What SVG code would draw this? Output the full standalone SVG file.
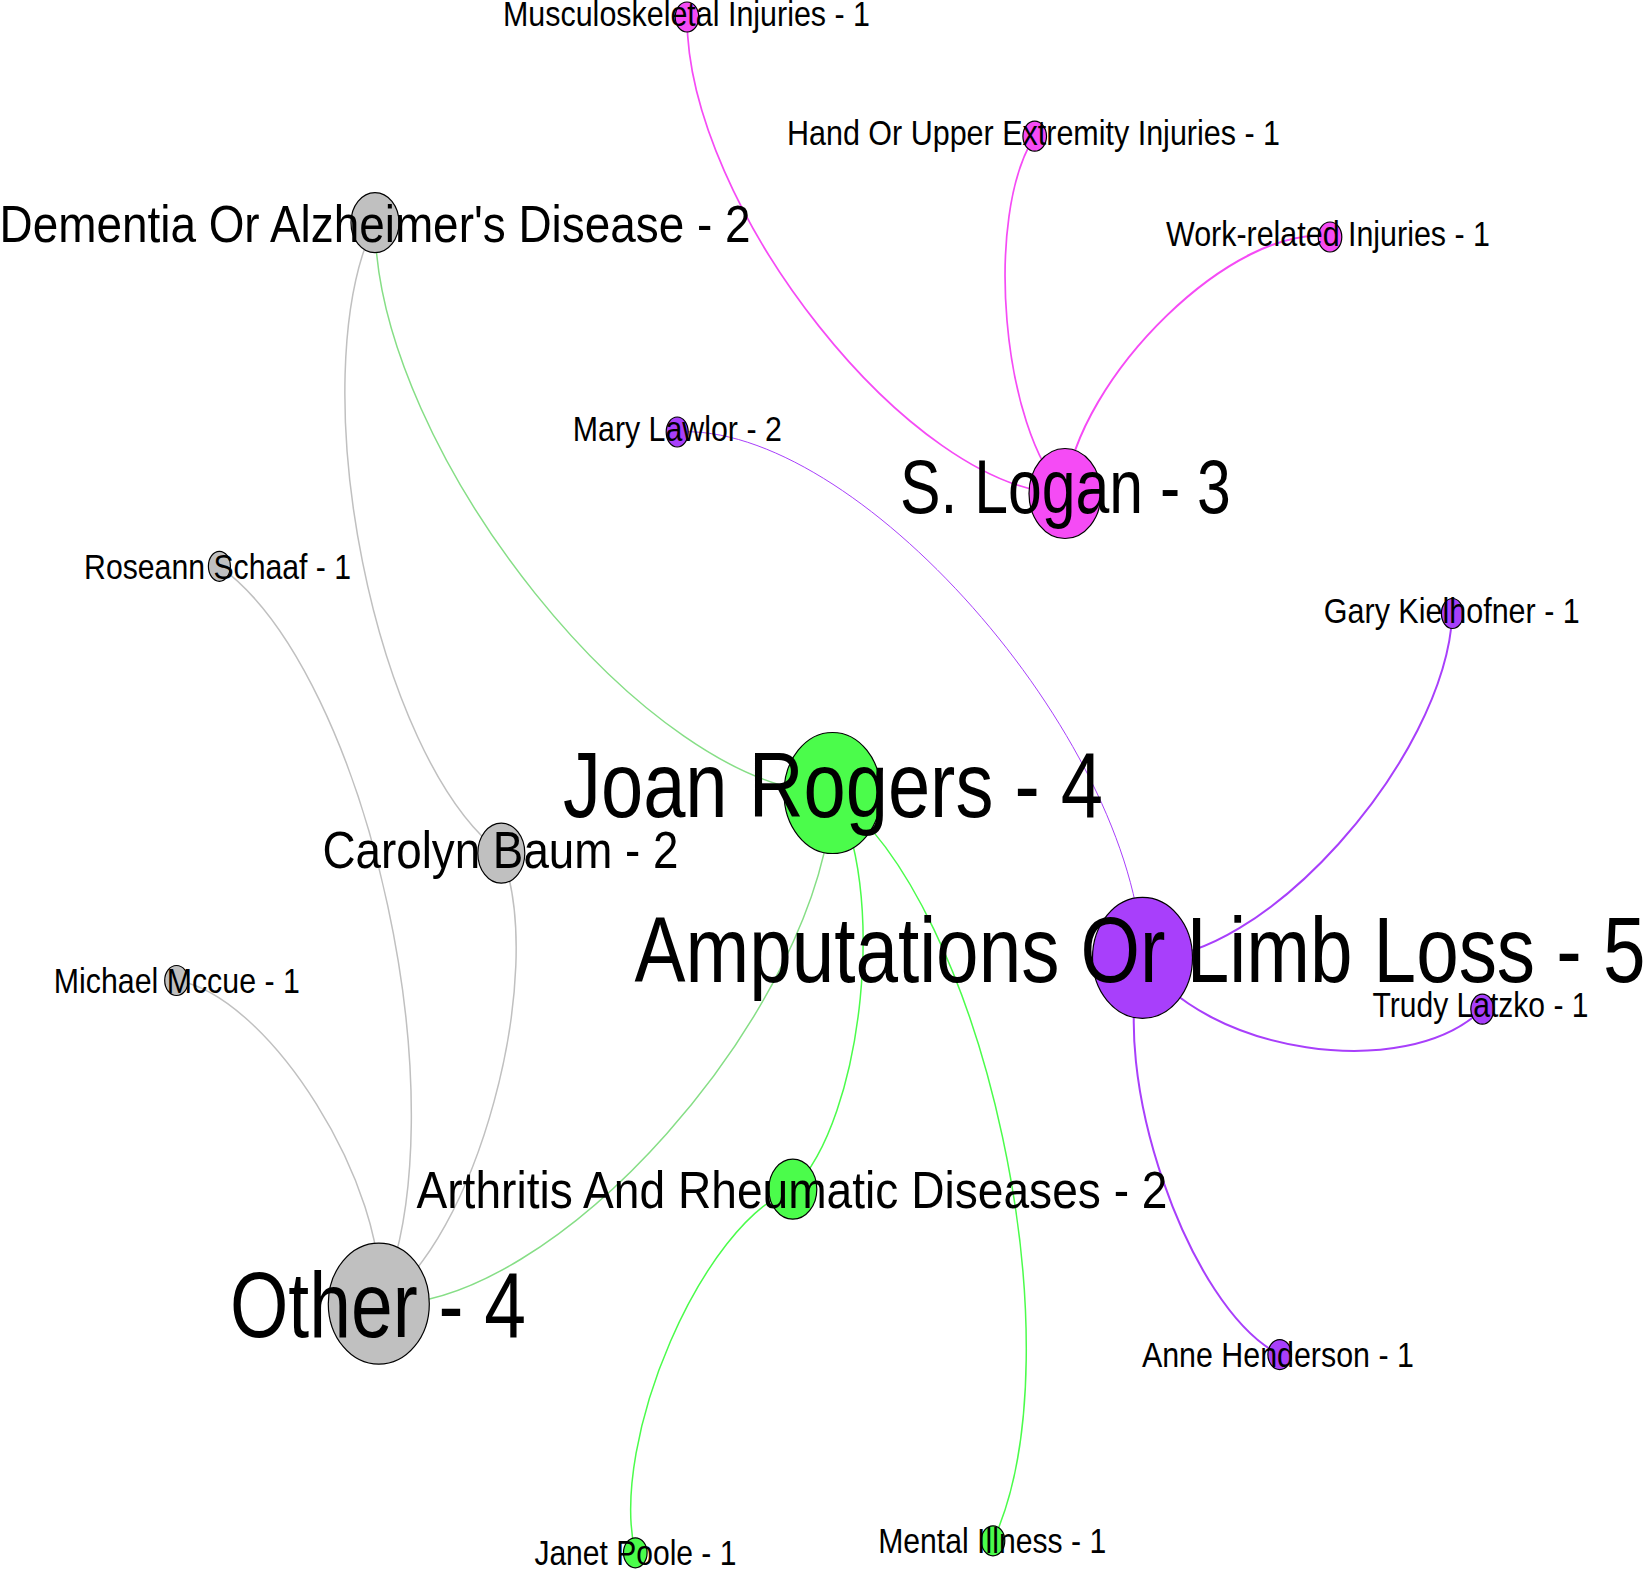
<svg xmlns="http://www.w3.org/2000/svg" width="1647" height="1569" viewBox="0 0 1647 1569">
<style>
.e{fill:none;stroke-width:1.5;vector-effect:non-scaling-stroke}
.mg{stroke:#f54bf5}.pu{stroke:#a83ffb}.gr{stroke:#4bfc4b}.gy{stroke:#c0c0c0}.mx{stroke:#86de86}
.n{stroke:#000;stroke-width:1.2}
.fm{fill:#f54bf5}.fp{fill:#a83ffb}.fg{fill:#4bfc4b}.fy{fill:#c0c0c0}
text{font-family:"Liberation Sans",Arial,sans-serif;fill:#000;text-anchor:middle}
.s{font-size:35px}.m{font-size:52px}.l{font-size:75.5px}.x{font-size:92px}
</style>
<rect width="1647" height="1569" fill="#fff"/>
<g id="connectors" transform="scale(0.8,1)">
<path class="e mg" style="stroke-width:1.7" d="M1331.3,493.5 C1141.5,492.7 858,206.8 858.8,17"/>
<path class="e mg" style="stroke-width:1.7" d="M1331.3,493.5 C1252.2,429.6 1229.5,215.2 1293.4,136.2"/>
<path class="e mg" style="stroke-width:2" d="M1331.3,493.5 C1346.2,376 1545,222.1 1662.5,237"/>
<path class="e pu" style="stroke-width:1" d="M846.5,432 C1068,420.8 1416.9,736.3 1428.1,957.8"/>
<path class="e pu" style="stroke-width:2" d="M1815.5,613.5 C1806.9,759.8 1574.4,966.4 1428.1,957.8"/>
<path class="e pu" style="stroke-width:2" d="M1852.9,1009.2 C1757.7,1083.9 1502.8,1053 1428.1,957.8"/>
<path class="e pu" style="stroke-width:2" d="M1599.6,1354.6 C1485.9,1309.5 1383,1071.5 1428.1,957.8"/>
<path class="e gy" d="M626.6,853.2 C468.9,758.7 374.2,380.4 468.8,222.7"/>
<path class="e mx" d="M1040.6,793 C812.2,793.3 469.1,451.1 468.8,222.7"/>
<path class="e gy" d="M274.3,566.3 C461.6,673.9 581.1,1116.4 473.5,1303.7"/>
<path class="e gy" d="M220.6,980.5 C335.8,994.6 487.6,1188.5 473.5,1303.7"/>
<path class="e gy" d="M626.6,853.2 C686.1,973.9 594.2,1244.2 473.5,1303.7"/>
<path class="e mx" d="M1040.6,793 C1029.3,1008.6 689.1,1315 473.5,1303.7"/>
<path class="e gr" d="M1040.6,793 C1109.9,882.2 1080.2,1119.9 991,1189.2"/>
<path class="e gr" d="M1040.6,793 C1230.3,902.4 1350.7,1351.1 1241.3,1540.8"/>
<path class="e gr" d="M794.1,1552.8 C760.8,1440.7 878.9,1222.5 991,1189.2"/>
</g>
<g id="nodes">
<g id="n-amputations"><ellipse class="n fp" cx="1142.5" cy="957.8" rx="50" ry="60.5"/><text class="x" x="1140" y="982.3" textLength="1011" lengthAdjust="spacingAndGlyphs">Amputations Or Limb Loss - 5</text></g>
<g id="n-joan"><ellipse class="n fg" cx="832.5" cy="793" rx="48.5" ry="60.5"/><text class="x" x="833" y="816.7" textLength="540" lengthAdjust="spacingAndGlyphs">Joan Rogers - 4</text></g>
<g id="n-other"><ellipse class="n fy" cx="378.8" cy="1303.7" rx="50.5" ry="60.5"/><text class="x" x="378" y="1336.7" textLength="296" lengthAdjust="spacingAndGlyphs">Other - 4</text></g>
<g id="n-logan"><ellipse class="n fm" cx="1065" cy="493.5" rx="36" ry="45"/><text class="l" x="1065.4" y="513.3" textLength="331" lengthAdjust="spacingAndGlyphs">S. Logan - 3</text></g>
<g id="n-dementia"><ellipse class="n fy" cx="375" cy="222.7" rx="24" ry="30"/><text class="m" x="375" y="241.7" textLength="751" lengthAdjust="spacingAndGlyphs">Dementia Or Alzheimer's Disease - 2</text></g>
<g id="n-carolyn"><ellipse class="n fy" cx="501.3" cy="853.2" rx="23.5" ry="30"/><text class="m" x="500.5" y="868.3" textLength="356" lengthAdjust="spacingAndGlyphs">Carolyn Baum - 2</text></g>
<g id="n-arthritis"><ellipse class="n fg" cx="792.8" cy="1189.2" rx="24" ry="30"/><text class="m" x="792" y="1208.3" textLength="751" lengthAdjust="spacingAndGlyphs">Arthritis And Rheumatic Diseases - 2</text></g>
<g id="n-musculoskeletal"><ellipse class="n fm" cx="687" cy="17" rx="11.8" ry="15"/><text class="s" x="686.5" y="26" textLength="367" lengthAdjust="spacingAndGlyphs">Musculoskeletal Injuries - 1</text></g>
<g id="n-hand"><ellipse class="n fm" cx="1034.7" cy="136.2" rx="11.8" ry="15"/><text class="s" x="1033.5" y="145" textLength="493" lengthAdjust="spacingAndGlyphs">Hand Or Upper Extremity Injuries - 1</text></g>
<g id="n-work"><ellipse class="n fm" cx="1330" cy="237" rx="11.8" ry="15"/><text class="s" x="1328" y="245.7" textLength="324" lengthAdjust="spacingAndGlyphs">Work-related Injuries - 1</text></g>
<g id="n-mary"><ellipse class="n fp" cx="677.2" cy="432" rx="11" ry="15"/><text class="s" x="677.3" y="441" textLength="209" lengthAdjust="spacingAndGlyphs">Mary Lawlor - 2</text></g>
<g id="n-roseann"><ellipse class="n fy" cx="219.4" cy="566.3" rx="11" ry="15"/><text class="s" x="217.6" y="579.3" textLength="267" lengthAdjust="spacingAndGlyphs">Roseann Schaaf - 1</text></g>
<g id="n-michael"><ellipse class="n fy" cx="176.5" cy="980.5" rx="11.8" ry="15"/><text class="s" x="176.8" y="992.7" textLength="246" lengthAdjust="spacingAndGlyphs">Michael Mccue - 1</text></g>
<g id="n-gary"><ellipse class="n fp" cx="1452.4" cy="613.5" rx="11" ry="15"/><text class="s" x="1451.8" y="622.7" textLength="256" lengthAdjust="spacingAndGlyphs">Gary Kielhofner - 1</text></g>
<g id="n-trudy"><ellipse class="n fp" cx="1482.3" cy="1009.2" rx="11.5" ry="15"/><text class="s" x="1480.5" y="1017.3" textLength="216" lengthAdjust="spacingAndGlyphs">Trudy Latzko - 1</text></g>
<g id="n-anne"><ellipse class="n fp" cx="1279.7" cy="1354.6" rx="11.8" ry="15"/><text class="s" x="1277.9" y="1366.6" textLength="272" lengthAdjust="spacingAndGlyphs">Anne Henderson - 1</text></g>
<g id="n-mental"><ellipse class="n fg" cx="993" cy="1540.8" rx="11.8" ry="15"/><text class="s" x="992.2" y="1553.3" textLength="228" lengthAdjust="spacingAndGlyphs">Mental Illness - 1</text></g>
<g id="n-janet"><ellipse class="n fg" cx="635.3" cy="1552.8" rx="11.8" ry="15"/><text class="s" x="635.4" y="1565" textLength="202" lengthAdjust="spacingAndGlyphs">Janet Poole - 1</text></g>
</g>
</svg>
